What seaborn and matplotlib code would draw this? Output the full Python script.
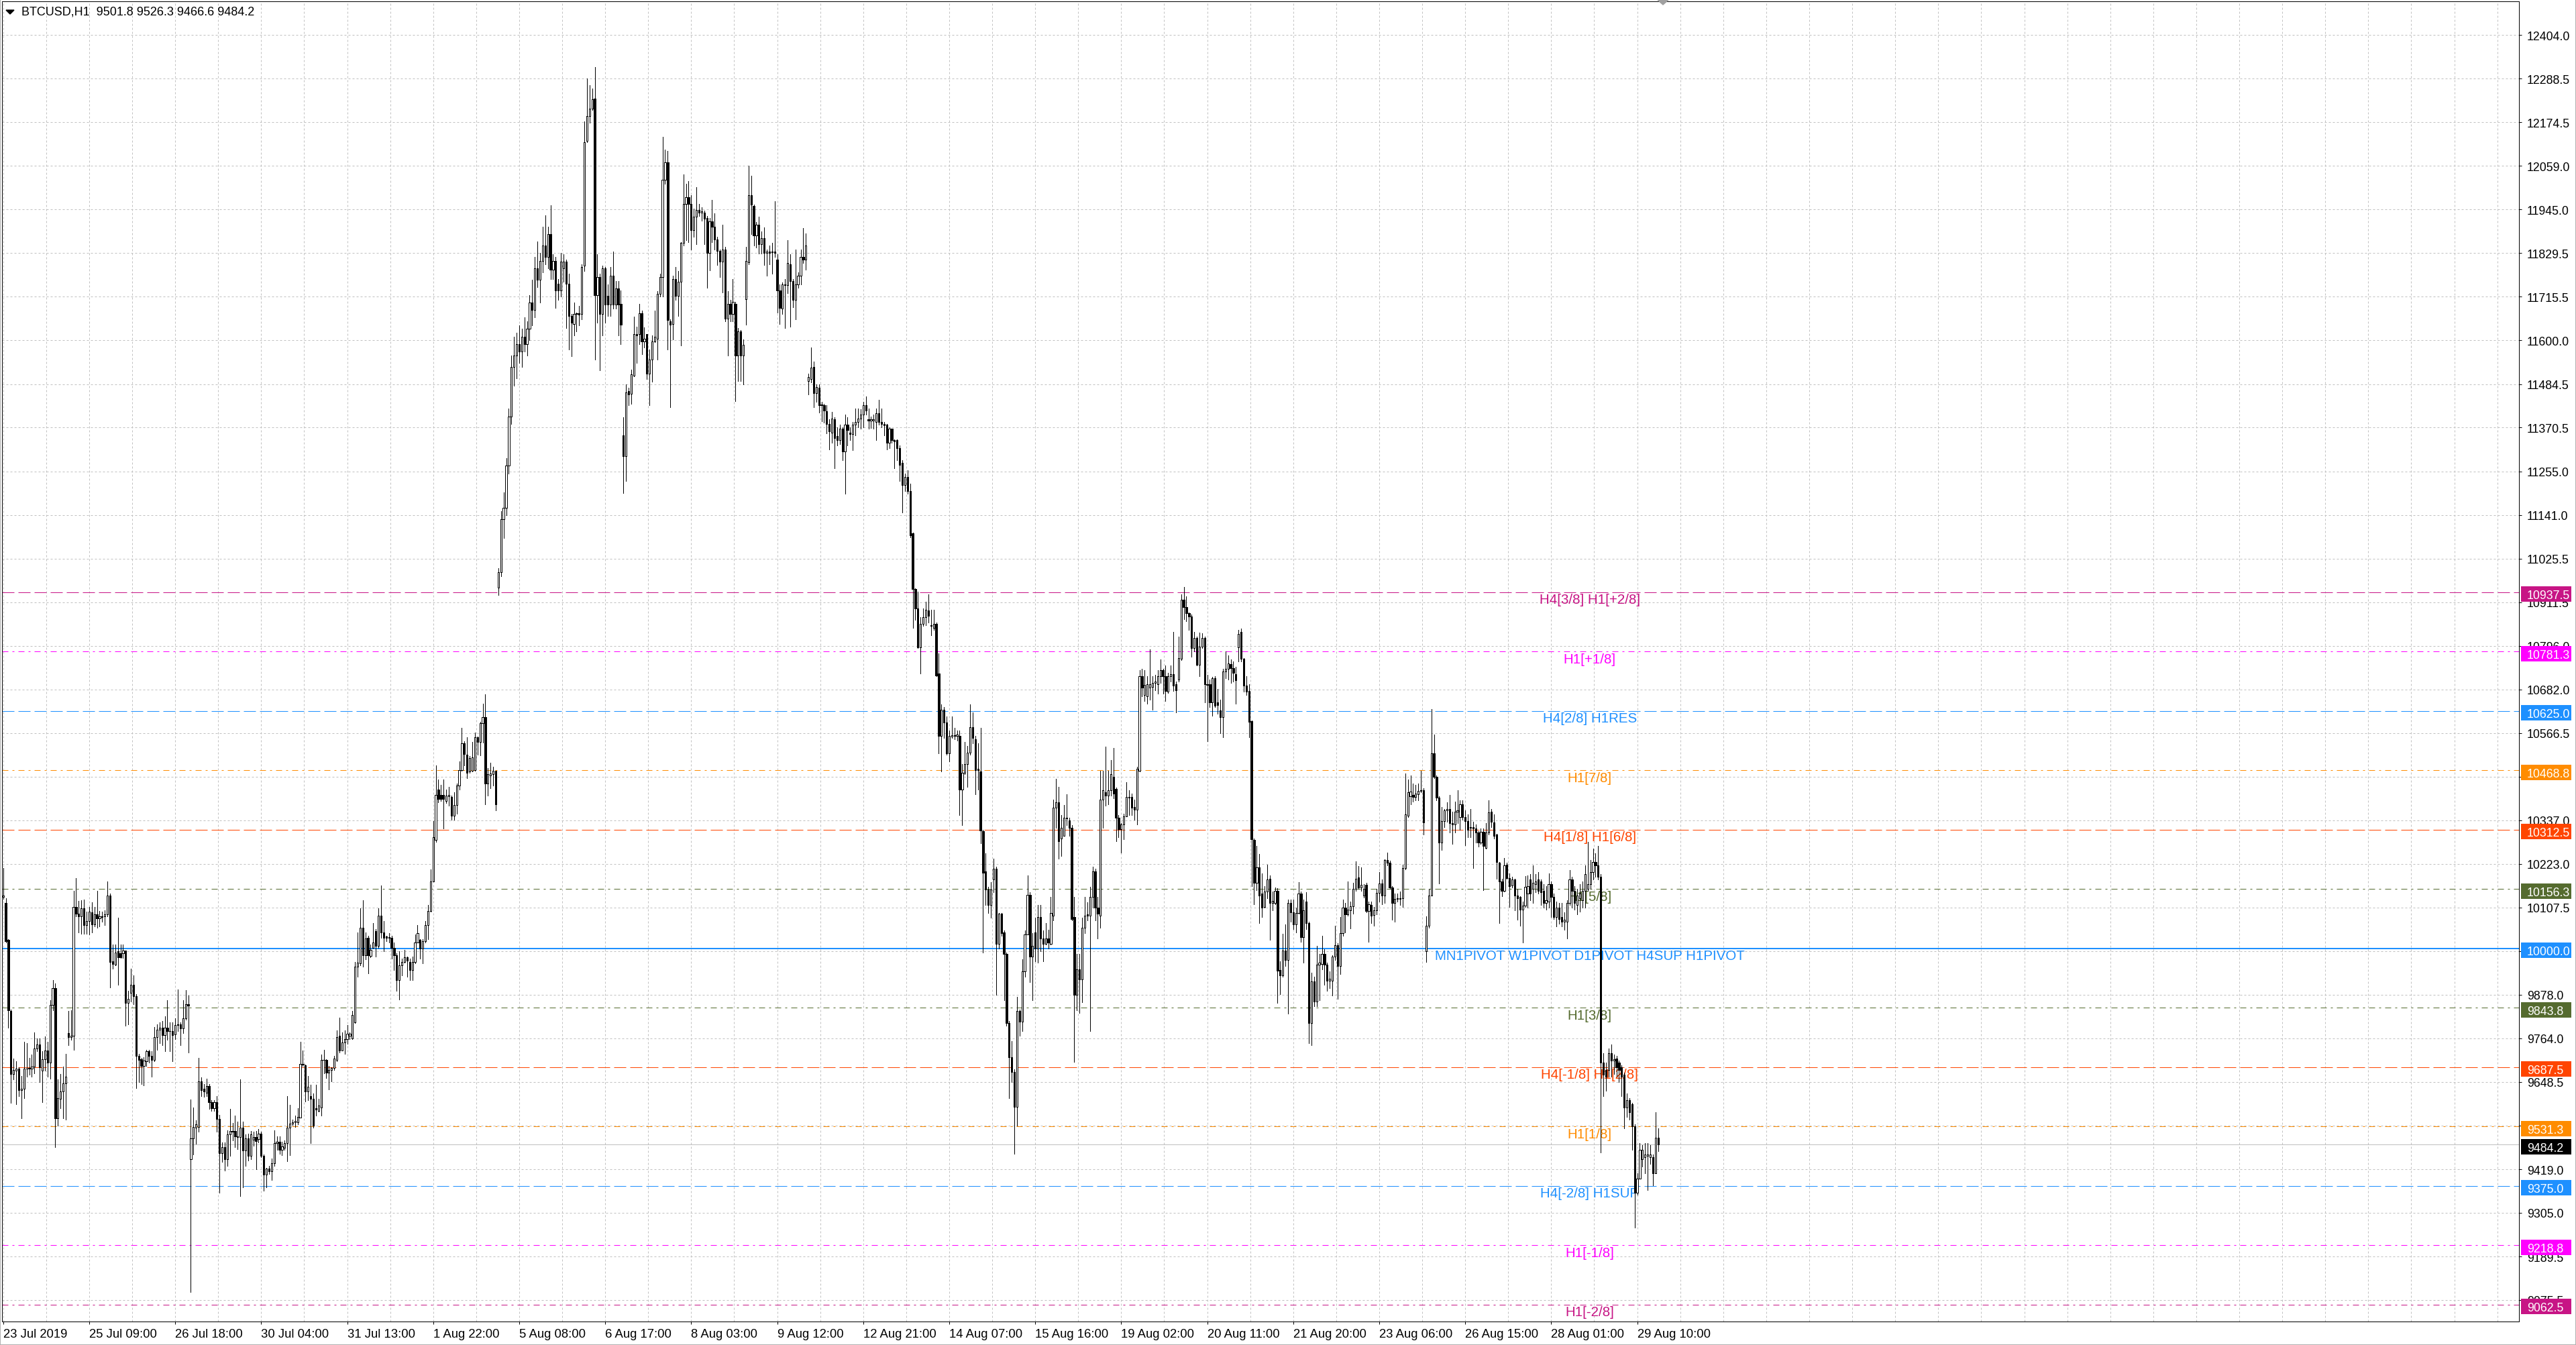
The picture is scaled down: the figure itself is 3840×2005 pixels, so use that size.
import numpy as np
import matplotlib
matplotlib.use("Agg")
import matplotlib.pyplot as plt
import matplotlib.transforms as mtransforms
from matplotlib.patches import Rectangle, Polygon
import seaborn as sns

# ---- data: BTCUSD H1 candles ----
symbol_line = "BTCUSD,H1  9501.8 9526.3 9466.6 9484.2"

opens = [
    # 23-26 Jul
    10135, 10119, 10022, 9835, 9669, 9679, 9683, 9628, 9630, 9683,
    9684, 9683, 9689, 9737, 9748, 9679, 9708, 9732, 9699, 9851,
    9896, 9553, 9605, 9624, 9645, 9778, 9766, 9770, 10109, 10091,
    10085, 10105, 10062, 10073, 10095, 10063, 10089, 10080, 10085, 10085,
    10089, 10139, 9967, 9957, 9993, 9987, 9987, 9995, 9856, 9884,
    9904, 9874, 9718, 9709, 9691, 9703, 9730, 9718, 9707, 9766,
    9786, 9791, 9772, 9791, 9783, 9782, 9774, 9799, 9801, 9790,
    9817, 9853, 9446, 9500, 9529, 9531, 9650, 9630, 9620, 9638,
    9595, 9580, 9595, 9551, 9462, 9478, 9446, 9510, 9520, 9520,
    9506, 9504, 9529, 9468, 9500, 9454, 9496, 9503, 9498, 9513,
    9454, 9405, 9420, 9413, 9435, 9488, 9491,
    # 30 Jul - 2 Aug
    9470, 9476, 9488, 9528, 9539, 9543, 9542, 9555, 9697, 9692,
    9623, 9611, 9605, 9580, 9573, 9582, 9706, 9706, 9674, 9681,
    9686, 9707, 9771, 9731, 9753, 9761, 9771, 9764, 9806, 9952,
    9961, 10055, 9983, 10028, 9980, 10001, 10046, 10006, 10087, 10042,
    10031, 10028, 10028, 10001, 9983, 9916, 9956, 9965, 9977, 9965,
    9943, 9965, 10016, 10022, 9999, 10019, 10062, 10098, 10177, 10285,
    10418, 10404, 10404, 10389, 10400, 10399, 10350, 10377, 10429, 10470,
    10540, 10510, 10465, 10467, 10470, 10555, 10544, 10593, 10608, 10434,
    10456, 10458, 10467,
    # 5 Aug
    10950, 10990, 11130, 11160, 11270, 11400, 11530, 11560, 11590, 11570,
    11610, 11590, 11630, 11700, 11680, 11790, 11760, 11810, 11850, 11820,
    # 5-9 Aug
    11880, 11787, 11810, 11750, 11732, 11790, 11808, 11750, 11665, 11643,
    11669, 11672, 11669, 11796, 12126, 12191, 12210, 12237, 11720, 11766,
    11669, 11789, 11718, 11695, 11771, 11695, 11736, 11697, 11351, 11295,
    11466, 11459, 11508, 11616, 11616, 11671, 11597, 11616, 11512, 11549,
    11598, 11605, 11722, 11766, 12023, 12068, 11651, 11643, 11762, 11717,
    11754, 11856, 11960, 11976, 11960, 11891, 11926, 11944, 11937, 11937,
    11923, 11831, 11914, 11900, 11865, 11836, 11808, 11840, 11658, 11697,
    11669, 11697, 11560, 11623, 11560, 11708, 11806, 11983, 11954, 11877,
    11905, 11854, 11870, 11831, 11834, 11832, 11834, 11812, 11732, 11683,
    11748, 11745, 11800, 11757, 11706, 11748, 11771, 11819, 11812, 11494,
    11498, 11530, 11461, 11475, 11431, 11429, 11413, 11381,
    # 12-15 Aug
    11358, 11392, 11348, 11338, 11367, 11308, 11378, 11358, 11354, 11378,
    11385, 11394, 11405, 11430, 11392, 11389, 11389, 11385, 11408, 11385,
    11381, 11378, 11331, 11367, 11338, 11338, 11317, 11277, 11219, 11240,
    11203, 11092, 10946, 10894, 10793, 10854, 10871, 10889, 10851, 10844,
    10854, 10723, 10560, 10628, 10594, 10513, 10558, 10562, 10560, 10560,
    10419, 10463, 10486, 10516, 10583, 10551, 10472, 10466, 10308, 10202,
    10155, 10114, 10182, 10209, 10013, 10092, 10043, 9986, 9803, 9713,
    9675, 9583, 9835, 9808, 9939, 10037, 10141, 9979, 10043, 9999,
    10083, 10026, 10013, 10026, 10013, 10087, 10371, 10385, 10290, 10297,
    10342, 10337, 10317, 10083, 9878, 9945, 9918, 10054, 10089, 10087,
    10135, 10202, 10108,
    # 16-22 Aug
    10087, 10391, 10411, 10403, 10416, 10452, 10420, 10344, 10314, 10326,
    10348, 10397, 10399, 10373, 10365, 10468, 10716, 10667, 10663, 10687,
    10689, 10699, 10695, 10716, 10733, 10717, 10675, 10717, 10722, 10695,
    10708, 10763, 10918, 10898, 10882, 10874, 10790, 10817, 10746, 10795,
    10817, 10695, 10695, 10647, 10712, 10647, 10626, 10608, 10728, 10736,
    10748, 10738, 10722, 10793, 10833, 10763, 10691, 10677, 10598, 10286,
    10172, 10214, 10144, 10109, 10150, 10184, 10120, 10120, 10152, 9943,
    9930, 9995, 9970, 10120, 10095, 10063, 10093, 10144, 10030, 10124,
    10067, 9803, 9913, 9860, 9957, 9960, 9986, 9957, 9915, 9915,
    9978, 10008, 9953, 10041, 10107, 10089, 10101, 10111, 10156, 10187,
    10160, 10139, 10168,
    # 22-27 Aug
    10098, 10115, 10088, 10100, 10147, 10171, 10140, 10233, 10225, 10160,
    10120, 10131, 10133, 10133, 10211, 10350, 10400, 10404, 10399, 10406,
    10417, 10417, 9992, 10059, 10140, 10514, 10451, 10397, 10279, 10336,
    10363, 10367, 10329, 10326, 10360, 10346, 10379, 10346, 10336, 10319,
    10319, 10316, 10306, 10279, 10307, 10265, 10306, 10360, 10331, 10299,
    10226, 10177, 10152, 10221, 10186, 10165, 10181, 10140, 10135, 10102,
    10113,
    # 27-29 Aug
    10145, 10182, 10157, 10170, 10182, 10176, 10151, 10120, 10123, 10170,
    10136, 10083, 10108, 10083, 10071, 10071, 10120, 10182, 10151, 10114,
    10133, 10127, 10151, 10157, 10170, 10201, 10228, 10219, 10188, 9699,
    9680, 9680, 9724, 9705, 9711, 9699, 9687, 9668, 9581, 9600,
    9590, 9532, 9358, 9395, 9445, 9451, 9454, 9451, 9451, 9408,
    9501.8,
]

highs = [
    10211, 10133, 10025, 9840, 9711, 9703, 9687, 9665, 9754, 9750,
    9712, 9721, 9780, 9764, 9763, 9730, 9768, 9754, 9864, 9916,
    9908, 9655, 9670, 9689, 9722, 9835, 9837, 10152, 10185, 10125,
    10126, 10128, 10097, 10109, 10121, 10109, 10152, 10099, 10096, 10101,
    10176, 10144, 10010, 10010, 10081, 10010, 10010, 9995, 9888, 9947,
    9930, 9880, 9722, 9712, 9714, 9734, 9734, 9730, 9793, 9801,
    9805, 9809, 9821, 9864, 9805, 9805, 9817, 9892, 9805, 9864,
    9890, 9876, 9602, 9582, 9547, 9712, 9660, 9643, 9658, 9644,
    9600, 9600, 9612, 9562, 9490, 9490, 9522, 9577, 9540, 9561,
    9545, 9655, 9545, 9510, 9513, 9520, 9518, 9520, 9525, 9517,
    9458, 9423, 9427, 9447, 9521, 9505, 9505,
    9492, 9495, 9611, 9589, 9550, 9560, 9580, 9755, 9731, 9695,
    9665, 9642, 9618, 9642, 9605, 9720, 9733, 9708, 9690, 9688,
    9717, 9785, 9818, 9780, 9785, 9798, 9780, 9836, 9965, 10042,
    10105, 10127, 10042, 10033, 10010, 10067, 10051, 10105, 10166, 10073,
    10034, 10040, 10033, 10015, 9988, 9992, 9974, 9997, 9979, 9974,
    9979, 10037, 10062, 10024, 10024, 10073, 10114, 10208, 10335, 10481,
    10445, 10431, 10445, 10418, 10425, 10402, 10411, 10434, 10492, 10581,
    10546, 10555, 10506, 10544, 10569, 10557, 10596, 10644, 10668, 10474,
    10488, 10479, 10467,
    11000, 11150, 11200, 11290, 11420, 11560, 11610, 11620, 11640, 11630,
    11660, 11650, 11720, 11760, 11820, 11860, 11830, 11900, 11930, 11900,
    11956, 11826, 11819, 11762, 11831, 11826, 11812, 11775, 11669, 11699,
    11674, 11690, 11800, 12177, 12290, 12271, 12262, 12320, 11826, 11775,
    11796, 11794, 11748, 11794, 11833, 11757, 11757, 11732, 11397, 11485,
    11475, 11523, 11662, 11637, 11697, 11678, 11634, 11617, 11577, 11614,
    11678, 11729, 11775, 12136, 12103, 12099, 11655, 11771, 11794, 11782,
    11859, 12037, 12013, 12020, 11983, 11946, 12004, 11960, 11950, 11942,
    11928, 11923, 11969, 11935, 11872, 11840, 11905, 11847, 11729, 11706,
    11762, 11702, 11632, 11628, 11603, 11847, 12059, 12034, 11957, 11911,
    11926, 11886, 11898, 11840, 11850, 11856, 11967, 11826, 11748, 11752,
    11762, 11863, 11826, 11762, 11840, 11780, 11840, 11896, 11882, 11512,
    11582, 11545, 11485, 11485, 11438, 11434, 11429, 11392,
    11412, 11398, 11371, 11378, 11371, 11405, 11398, 11371, 11385, 11421,
    11421, 11419, 11439, 11453, 11421, 11400, 11405, 11421, 11443, 11421,
    11385, 11381, 11371, 11367, 11340, 11340, 11324, 11284, 11250, 11259,
    11223, 11094, 10948, 10939, 10871, 10894, 10912, 10932, 10892, 10892,
    10858, 10777, 10642, 10635, 10610, 10574, 10610, 10580, 10574, 10574,
    10486, 10543, 10533, 10642, 10621, 10560, 10540, 10581, 10313, 10250,
    10162, 10175, 10236, 10216, 10094, 10094, 10047, 9989, 9810, 9756,
    9682, 9872, 9840, 9972, 10047, 10192, 10148, 10040, 10081, 10114,
    10114, 10047, 10067, 10050, 10135, 10391, 10446, 10425, 10351, 10378,
    10405, 10344, 10324, 10135, 9986, 9986, 10081, 10135, 10121, 10162,
    10216, 10209, 10135,
    10468, 10468, 10531, 10468, 10495, 10527, 10424, 10351, 10330, 10355,
    10438, 10417, 10407, 10391, 10479, 10732, 10736, 10732, 10717, 10787,
    10716, 10720, 10732, 10760, 10736, 10744, 10725, 10744, 10833, 10703,
    10821, 10931, 10951, 10926, 10884, 10878, 10833, 10821, 10831, 10829,
    10821, 10720, 10708, 10714, 10716, 10683, 10655, 10736, 10781, 10772,
    10760, 10756, 10742, 10839, 10841, 10764, 10716, 10695, 10600, 10290,
    10270, 10249, 10197, 10164, 10221, 10193, 10150, 10160, 10158, 9966,
    10038, 10063, 10128, 10128, 10128, 10107, 10174, 10150, 10128, 10148,
    10071, 9937, 9925, 10006, 9986, 10034, 9998, 9963, 9940, 9982,
    10060, 10014, 10083, 10128, 10120, 10176, 10124, 10172, 10229, 10217,
    10213, 10170, 10172,
    10123, 10123, 10110, 10157, 10201, 10181, 10235, 10252, 10231, 10164,
    10144, 10145, 10150, 10221, 10461, 10444, 10455, 10434, 10431, 10434,
    10468, 10421, 10084, 10157, 10630, 10563, 10455, 10400, 10373, 10367,
    10384, 10404, 10360, 10387, 10417, 10390, 10390, 10363, 10353, 10367,
    10333, 10326, 10309, 10316, 10316, 10329, 10390, 10367, 10353, 10302,
    10228, 10184, 10238, 10225, 10198, 10188, 10184, 10157, 10137, 10123,
    10191,
    10192, 10195, 10219, 10195, 10201, 10182, 10170, 10164, 10197, 10176,
    10145, 10123, 10120, 10120, 10095, 10127, 10207, 10188, 10164, 10157,
    10170, 10176, 10219, 10281, 10232, 10263, 10250, 10269, 10195, 9724,
    9699, 9736, 9748, 9720, 9717, 9705, 9693, 9674, 9618, 9606,
    9594, 9538, 9408, 9488, 9482, 9488, 9488, 9482, 9457, 9569,
    9526.3,
]

lows = [
    10130, 10015, 9791, 9594, 9656, 9591, 9612, 9554, 9606, 9663,
    9668, 9663, 9671, 9730, 9648, 9596, 9679, 9663, 9658, 9837,
    9478, 9533, 9579, 9554, 9549, 9746, 9760, 9734, 10085, 10043,
    10038, 10038, 10038, 10036, 10042, 10058, 10054, 10058, 10070, 10062,
    10085, 9898, 9947, 9955, 9905, 9975, 9975, 9796, 9801, 9860,
    9854, 9633, 9649, 9644, 9640, 9691, 9699, 9663, 9703, 9734,
    9750, 9746, 9730, 9760, 9730, 9703, 9762, 9782, 9746, 9778,
    9813, 9727, 9096, 9458, 9486, 9517, 9612, 9610, 9612, 9578,
    9573, 9573, 9517, 9357, 9438, 9415, 9427, 9454, 9495, 9478,
    9472, 9349, 9372, 9427, 9442, 9446, 9480, 9419, 9490, 9450,
    9362, 9372, 9407, 9391, 9427, 9470, 9460,
    9456, 9470, 9440, 9456, 9535, 9530, 9537, 9555, 9690, 9597,
    9600, 9488, 9528, 9560, 9571, 9560, 9672, 9659, 9629, 9650,
    9681, 9704, 9726, 9731, 9722, 9749, 9762, 9762, 9803, 9926,
    9956, 9952, 9971, 9935, 9976, 10001, 9979, 10001, 10028, 9992,
    10019, 10015, 9974, 9943, 9889, 9866, 9929, 9962, 9925, 9916,
    9917, 9961, 10015, 9974, 9961, 10015, 10024, 10096, 10177, 10281,
    10384, 10389, 10315, 10382, 10375, 10339, 10339, 10355, 10418, 10467,
    10481, 10449, 10463, 10465, 10467, 10510, 10508, 10542, 10380, 10402,
    10422, 10429, 10364,
    10930, 10980, 11080, 11140, 11250, 11380, 11480, 11500, 11540, 11530,
    11570, 11560, 11600, 11640, 11660, 11740, 11700, 11780, 11800, 11790,
    11762, 11762, 11686, 11706, 11715, 11755, 11632, 11577, 11559, 11614,
    11623, 11640, 11655, 11782, 12122, 12173, 12207, 11549, 11646, 11521,
    11614, 11646, 11665, 11665, 11683, 11683, 11614, 11591, 11198, 11231,
    11430, 11434, 11505, 11540, 11591, 11563, 11582, 11498, 11429, 11492,
    11595, 11549, 11715, 11715, 12013, 11577, 11424, 11603, 11706, 11665,
    11586, 11850, 11863, 11858, 11840, 11872, 11854, 11928, 11915, 11854,
    11739, 11785, 11858, 11840, 11799, 11766, 11726, 11651, 11560, 11651,
    11651, 11440, 11494, 11494, 11485, 11641, 11800, 11880, 11849, 11845,
    11828, 11828, 11799, 11771, 11800, 11775, 11820, 11674, 11644, 11669,
    11632, 11725, 11637, 11688, 11655, 11738, 11748, 11803, 11787, 11457,
    11489, 11424, 11438, 11410, 11387, 11383, 11355, 11313,
    11331, 11263, 11324, 11327, 11284, 11196, 11324, 11338, 11311, 11351,
    11371, 11367, 11371, 11405, 11367, 11370, 11367, 11338, 11378, 11371,
    11351, 11313, 11317, 11331, 11263, 11284, 11230, 11148, 11203, 11196,
    11081, 10844, 10865, 10790, 10723, 10848, 10851, 10858, 10824, 10838,
    10716, 10513, 10466, 10554, 10510, 10493, 10554, 10550, 10547, 10351,
    10324, 10459, 10425, 10510, 10540, 10405, 10419, 10277, 9989, 10114,
    10094, 10081, 10148, 9878, 9999, 10033, 9864, 9797, 9607, 9648,
    9459, 9533, 9770, 9783, 9925, 10037, 9912, 9864, 9966, 9962,
    9993, 9966, 10010, 10000, 10010, 10074, 10317, 10236, 10243, 10297,
    10324, 10297, 10074, 9702, 9837, 9830, 9858, 10040, 10074, 9783,
    10108, 10074, 10026,
    10055, 10318, 10375, 10379, 10403, 10395, 10282, 10292, 10253, 10287,
    10347, 10351, 10351, 10339, 10326, 10466, 10663, 10651, 10644, 10655,
    10628, 10680, 10671, 10699, 10671, 10651, 10673, 10703, 10677, 10622,
    10703, 10758, 10866, 10862, 10839, 10768, 10781, 10744, 10717, 10790,
    10647, 10545, 10635, 10612, 10635, 10618, 10566, 10555, 10712, 10708,
    10699, 10703, 10644, 10756, 10756, 10675, 10667, 10555, 10164, 10117,
    10154, 10067, 10083, 10107, 10132, 10022, 10100, 10116, 9856, 9880,
    9925, 9953, 9828, 10071, 10051, 10043, 10091, 10018, 9962, 10051,
    9751, 9746, 9848, 9848, 9864, 9945, 9905, 9889, 9895, 9876,
    9970, 9868, 9933, 10034, 10043, 10087, 10053, 10091, 10152, 10156,
    10152, 10134, 10095,
    10018, 10066, 10059, 10090, 10123, 10117, 10120, 10218, 10157, 10076,
    10071, 10123, 10115, 10110, 10208, 10346, 10380, 10387, 10390, 10390,
    10411, 10299, 9964, 10055, 10140, 10448, 10390, 10171, 10259, 10319,
    10333, 10306, 10275, 10306, 10329, 10313, 10338, 10272, 10292, 10292,
    10211, 10279, 10268, 10275, 10154, 10262, 10299, 10319, 10289, 10184,
    10066, 10137, 10150, 10184, 10110, 10160, 10100, 10076, 10059, 10015,
    10110,
    10108, 10127, 10120, 10148, 10145, 10114, 10108, 10102, 10108, 10083,
    10077, 10058, 10065, 10058, 10050, 10027, 10114, 10108, 10102, 10089,
    10096, 10108, 10108, 10151, 10157, 10182, 10188, 10182, 9464, 9612,
    9625, 9662, 9662, 9670, 9662, 9649, 9612, 9526, 9557, 9550,
    9470, 9265, 9352, 9395, 9426, 9408, 9364, 9433, 9377, 9408,
    9466.6,
]

closes = [
    10139, 10020, 9837, 9669, 9681, 9683, 9628, 9630, 9683, 9684,
    9686, 9689, 9737, 9748, 9687, 9708, 9732, 9699, 9851, 9896,
    9553, 9607, 9624, 9645, 9662, 9766, 9770, 10109, 10091, 10085,
    10105, 10062, 10073, 10097, 10063, 10089, 10080, 10085, 10083, 10089,
    10139, 9964, 9959, 9990, 9977, 9977, 9995, 9856, 9867, 9904,
    9874, 9717, 9707, 9691, 9705, 9730, 9718, 9707, 9766, 9786,
    9791, 9772, 9791, 9782, 9782, 9772, 9799, 9801, 9790, 9817,
    9853, 9849, 9500, 9531, 9537, 9650, 9628, 9624, 9638, 9596,
    9580, 9595, 9551, 9462, 9478, 9446, 9510, 9520, 9518, 9506,
    9504, 9529, 9468, 9500, 9454, 9510, 9503, 9494, 9513, 9454,
    9405, 9420, 9413, 9435, 9488, 9491, 9470,
    9479, 9488, 9528, 9539, 9543, 9546, 9557, 9697, 9695, 9623,
    9636, 9605, 9533, 9576, 9587, 9706, 9707, 9674, 9681, 9686,
    9710, 9767, 9731, 9753, 9761, 9776, 9776, 9825, 9952, 9962,
    10055, 9983, 10026, 9983, 9997, 10016, 10007, 10087, 10042, 10028,
    10028, 10030, 10001, 9983, 9916, 9956, 9965, 9977, 9968, 9943,
    9965, 10016, 10040, 9999, 10019, 10062, 10098, 10177, 10292, 10404,
    10393, 10393, 10393, 10402, 10404, 10350, 10377, 10429, 10470, 10540,
    10512, 10463, 10501, 10503, 10555, 10544, 10593, 10608, 10434, 10458,
    10460, 10467, 10380,
    10990, 11130, 11160, 11270, 11400, 11530, 11560, 11590, 11570, 11610,
    11590, 11630, 11700, 11680, 11790, 11760, 11810, 11850, 11820, 11880,
    11787, 11810, 11732, 11732, 11808, 11808, 11750, 11665, 11646, 11669,
    11672, 11668, 11794, 12122, 12191, 12210, 12235, 11720, 11766, 11669,
    11789, 11695, 11695, 11771, 11695, 11736, 11695, 11641, 11295, 11464,
    11457, 11511, 11616, 11614, 11671, 11597, 11605, 11512, 11549, 11598,
    11609, 11722, 11766, 12023, 12068, 11653, 11641, 11762, 11717, 11754,
    11856, 11960, 11976, 11960, 11891, 11926, 11944, 11937, 11940, 11920,
    11831, 11914, 11900, 11865, 11836, 11808, 11840, 11658, 11697, 11669,
    11702, 11560, 11623, 11560, 11588, 11810, 11983, 11957, 11877, 11905,
    11854, 11870, 11831, 11834, 11830, 11834, 11831, 11732, 11686, 11748,
    11745, 11803, 11757, 11706, 11748, 11771, 11819, 11812, 11849, 11503,
    11529, 11461, 11477, 11429, 11429, 11415, 11381, 11360,
    11394, 11344, 11338, 11367, 11308, 11378, 11365, 11354, 11378, 11385,
    11394, 11405, 11430, 11416, 11389, 11392, 11392, 11408, 11385, 11381,
    11376, 11331, 11367, 11338, 11335, 11317, 11273, 11219, 11240, 11203,
    11088, 10946, 10894, 10793, 10854, 10871, 10892, 10875, 10848, 10854,
    10719, 10560, 10628, 10594, 10513, 10560, 10562, 10560, 10563, 10419,
    10463, 10486, 10516, 10583, 10554, 10470, 10470, 10310, 10200, 10155,
    10114, 10155, 10209, 10013, 10092, 10040, 9986, 9803, 9713, 9675,
    9583, 9835, 9808, 9939, 10037, 10141, 9979, 10006, 9999, 10083,
    10026, 10013, 10026, 10015, 10094, 10371, 10385, 10283, 10317, 10344,
    10344, 10317, 10078, 9878, 9945, 9918, 10054, 10087, 10087, 10135,
    10202, 10108, 10091,
    10391, 10416, 10403, 10416, 10458, 10407, 10344, 10314, 10326, 10348,
    10398, 10399, 10371, 10365, 10472, 10716, 10687, 10693, 10695, 10695,
    10699, 10702, 10716, 10733, 10717, 10677, 10717, 10722, 10691, 10679,
    10764, 10918, 10898, 10882, 10874, 10790, 10817, 10746, 10795, 10817,
    10695, 10693, 10647, 10712, 10639, 10641, 10608, 10728, 10736, 10750,
    10738, 10725, 10706, 10828, 10763, 10691, 10675, 10596, 10287, 10172,
    10214, 10140, 10107, 10150, 10182, 10120, 10125, 10152, 9941, 9930,
    9995, 9970, 10120, 10095, 10063, 10093, 10144, 10030, 10101, 10067,
    9803, 9913, 9860, 9957, 9962, 9986, 9957, 9915, 9920, 9978,
    10008, 9953, 10041, 10107, 10089, 10103, 10111, 10156, 10184, 10160,
    10168, 10156, 10099,
    10117, 10086, 10100, 10147, 10171, 10140, 10233, 10225, 10160, 10120,
    10131, 10133, 10130, 10211, 10353, 10411, 10412, 10399, 10407, 10415,
    10415, 10331, 10059, 10140, 10514, 10451, 10397, 10279, 10336, 10363,
    10367, 10329, 10326, 10360, 10363, 10379, 10346, 10336, 10313, 10317,
    10316, 10306, 10279, 10307, 10269, 10306, 10359, 10333, 10296, 10228,
    10177, 10152, 10218, 10186, 10164, 10181, 10140, 10133, 10102, 10113,
    10162,
    10164, 10145, 10172, 10176, 10151, 10148, 10120, 10127, 10170, 10136,
    10083, 10108, 10077, 10071, 10075, 10120, 10182, 10151, 10120, 10139,
    10145, 10151, 10195, 10170, 10201, 10228, 10219, 10188, 9699, 9668,
    9662, 9724, 9705, 9708, 9687, 9680, 9662, 9581, 9600, 9569,
    9532, 9358, 9395, 9470, 9470, 9457, 9457, 9457, 9408, 9501.8,
    9484.2,
]

time_labels = ["23 Jul 2019", "25 Jul 09:00", "26 Jul 18:00", "30 Jul 04:00",
               "31 Jul 13:00", "1 Aug 22:00", "5 Aug 08:00", "6 Aug 17:00",
               "8 Aug 03:00", "9 Aug 12:00", "12 Aug 21:00", "14 Aug 07:00",
               "15 Aug 16:00", "19 Aug 02:00", "20 Aug 11:00", "21 Aug 20:00",
               "23 Aug 06:00", "26 Aug 15:00", "28 Aug 01:00", "29 Aug 10:00"]
bars_per_label = 33

price_ticks = [12404.0, 12288.5, 12174.5, 12059.0, 11945.0, 11829.5, 11715.5,
               11600.0, 11484.5, 11370.5, 11255.0, 11141.0, 11025.5, 10911.5,
               10796.0, 10682.0, 10566.5, 10452.0, 10337.0, 10223.0, 10107.5,
               9993.0, 9878.0, 9764.0, 9648.5, 9534.5, 9419.0, 9305.0, 9189.5,
               9075.5]
hidden_ticks = [10452.0, 9993.0]   # fully covered by the price boxes

level_prices = [10937.5, 10781.3, 10625.0, 10468.8, 10312.5, 10156.3, 10000.0,
                9843.8, 9687.5, 9531.3, 9375.0, 9218.8, 9062.5]
level_names = ["H4[3/8] H1[+2/8]", "H1[+1/8]", "H4[2/8] H1RES", "H1[7/8]",
               "H4[1/8] H1[6/8]", "H1[5/8]",
               "MN1PIVOT W1PIVOT D1PIVOT H4SUP H1PIVOT", "H1[3/8]",
               "H4[-1/8] H1[2/8]", "H1[1/8]", "H4[-2/8] H1SUP", "H1[-1/8]",
               "H1[-2/8]"]
level_colors = ["#C71585", "#FF00FF", "#1E90FF", "#FF8C00", "#FF4500", "#556B2F",
                "#1E90FF", "#556B2F", "#FF4500", "#FF8C00", "#1E90FF", "#FF00FF",
                "#C71585"]
level_styles = ["dash", "dashdot", "dash", "dashdot", "dash", "dashdot", "solid",
                "dashdot", "dash", "dashdot", "dash", "dashdot", "dashdot"]
bid_price = 9484.2

# ---- figure ----
sns.set_theme(style="white")
plt.rcParams["font.family"] = ["Liberation Sans", "DejaVu Sans"]

W, H = 3840, 2006
PX = 0.72                      # one pixel in points (dpi 100)
fig = plt.figure(figsize=(W / 100, H / 100), dpi=100, facecolor="white")
fl, fr, ft, fb = 3, 3755, 3, 1971          # plot frame in pixels
ax = fig.add_axes([fl / W, 1 - fb / H, (fr - fl) / W, (fb - ft) / H])
ax.set_facecolor("white")

n = min(len(opens), len(highs), len(lows), len(closes))
o = np.array(opens[:n], float)
h = np.array(highs[:n], float)
l = np.array(lows[:n], float)
c = np.array(closes[:n], float)
idx = np.arange(n)

bar_px = 3.885
xmin = (fl - 4.7) / bar_px
ax.set_xlim(xmin, xmin + (fr - fl) / bar_px)
ax.set_ylim(9018.3, 12492.3)
px_per_price = (fb - ft) / (12492.3 - 9018.3)

# grid
grid_kw = dict(color="#C0C0C0", lw=PX, dashes=(3, 3), zorder=1)
for p in price_ticks:
    ax.axhline(p, **grid_kw)
for gx in np.arange(0, 966, bars_per_label / 2):
    ax.axvline(gx, **grid_kw)

# level lines
dash_map = {"dash": (18, 6), "dashdot": (9, 6, 3, 6)}
for p, col, st in zip(level_prices, level_colors, level_styles):
    if st == "solid":
        ax.axhline(p, color=col, lw=2 * PX, zorder=2)
    else:
        ax.axhline(p, color=col, lw=PX, dashes=dash_map[st], zorder=2)
ax.axhline(bid_price, color="#C0C0C0", lw=PX, zorder=2)

# level labels
lab_tr = mtransforms.offset_copy(ax.transData, fig=fig, x=0, y=-11, units="dots")
label_bar = 608.8
for p, name, col in zip(level_prices, level_names, level_colors):
    ax.text(label_bar, p, name, transform=lab_tr, ha="center", va="center",
            color=col, fontsize=14.8, zorder=3)

# candles
ax.vlines(idx, l, h, color="black", lw=PX, zorder=4, antialiased=False)
up = c >= o
body_w = 0.58
ax.bar(idx[up], (c - o)[up], bottom=o[up], width=body_w, color="white",
       edgecolor="black", linewidth=PX, zorder=5, antialiased=False)
ax.bar(idx[~up], (c - o)[~up], bottom=o[~up], width=body_w, color="black",
       edgecolor="black", linewidth=PX, zorder=5, antialiased=False)

# axes styling
for sp in ax.spines.values():
    sp.set_color("black")
    sp.set_linewidth(PX)
    sp.set_visible(True)

ax.yaxis.tick_right()
ax.set_yticks(price_ticks)
ax.set_yticklabels(["" if p in hidden_ticks else f"{p:.1f}" for p in price_ticks])
ax.tick_params(axis="y", right=True, left=False, direction="out", length=4 * PX,
               width=PX, pad=8 * PX, labelsize=12.8, colors="black")

xt = np.arange(len(time_labels)) * bars_per_label
ax.set_xticks(xt)
ax.set_xticklabels(time_labels, ha="left")
ax.tick_params(axis="x", bottom=True, top=False, direction="out", length=4 * PX,
               width=PX, pad=4.6, labelsize=13.3, colors="black")
ax.grid(False)

# price boxes on the right scale (sit ~3 px below their line)
box_tr = mtransforms.blended_transform_factory(ax.transAxes, ax.transData)
span = fr - fl
bx = 1 + (3758 - fr) / span
bw = (3833 - 3758) / span
tx = 1 + (3767 - fr) / span
bh = 23 / px_per_price
shift = 3 / px_per_price
for p, col in zip(level_prices + [bid_price], level_colors + ["black"]):
    ax.add_patch(Rectangle((bx, p - shift - bh / 2), bw, bh, transform=box_tr,
                           facecolor=col, edgecolor="none", clip_on=False, zorder=10))
    ax.text(tx, p - shift, f"{p:.1f}", transform=box_tr, ha="left",
            va="center_baseline", color="white", fontsize=12.8, clip_on=False,
            zorder=11)

# header
fig.text(32 / W, 1 - 18 / H, symbol_line, ha="left", va="center", fontsize=13,
         color="black")
fig.add_artist(Polygon([[9 / W, 1 - 16 / H], [21 / W, 1 - 16 / H], [15 / W, 1 - 22 / H]],
                       closed=True, transform=fig.transFigure, color="black"))
# chart shift marker
fig.add_artist(Polygon([[2471 / W, 1 - 1 / H], [2487 / W, 1 - 1 / H], [2479 / W, 1 - 8 / H]],
                       closed=True, transform=fig.transFigure, color="#A0A0A0"))
# window border
fig.add_artist(Rectangle((0, 0), 1, 1, transform=fig.transFigure, fill=False,
                         edgecolor="#B0B0B0", lw=2 * PX))

fig.savefig("out.png", dpi=100, facecolor="white")
